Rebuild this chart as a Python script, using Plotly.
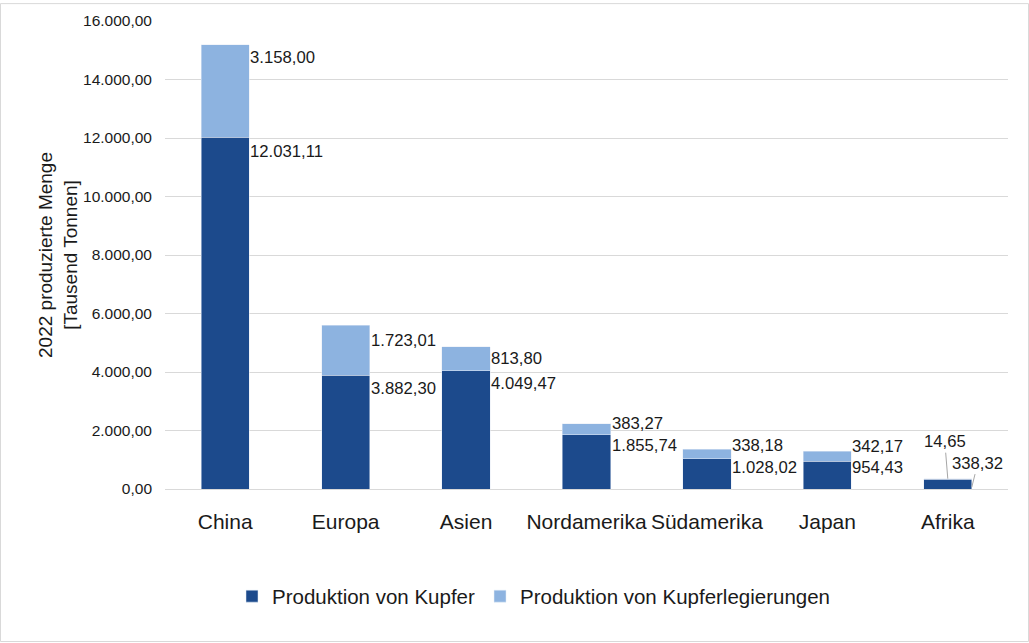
import plotly.graph_objects as go

categories = ["China", "Europa", "Asien", "Nordamerika", "Südamerika", "Japan", "Afrika"]
kupfer = [12031.11, 3882.30, 4049.47, 1855.74, 1028.02, 954.43, 338.32]
legierungen = [3158.00, 1723.01, 813.80, 383.27, 338.18, 342.17, 14.65]
series_names = ["Produktion von Kupfer", "Produktion von Kupferlegierungen"]
y_ticks = [0, 2000, 4000, 6000, 8000, 10000, 12000, 14000, 16000]

DARK = "#1c4a8c"
LIGHT = "#8db3e0"
FONT = "Liberation Sans, Arial, sans-serif"
TXT = "#1a1a1a"

# label vertical offsets (px, style only)
dark_shift = [-14, -13, -13, -11, -9, -6]
light_shift = [-13, -15, -12, 0, 4, 5]


def de(v):
    return f"{v:,.2f}".replace(",", "X").replace(".", ",").replace("X", ".")


fig = go.Figure()
fig.add_trace(go.Bar(x=categories, y=kupfer, name=series_names[0], marker_color=DARK))
fig.add_trace(go.Bar(x=categories, y=legierungen, name=series_names[1], marker_color=LIGHT))

LBL = dict(size=16.7, color=TXT, family=FONT)
ann = []
for i, c in enumerate(categories[:-1]):
    ann.append(dict(x=c, y=kupfer[i], text=de(kupfer[i]), showarrow=False, xanchor="left",
                    yanchor="middle", xshift=23, yshift=dark_shift[i], font=LBL))
    ann.append(dict(x=c, y=kupfer[i] + legierungen[i], text=de(legierungen[i]), showarrow=False,
                    xanchor="left", yanchor="middle", xshift=23, yshift=light_shift[i], font=LBL))
# Afrika with leader lines
c = categories[-1]
ann.append(dict(x=c, y=kupfer[-1] + legierungen[-1], text=de(legierungen[-1]), showarrow=True,
                arrowhead=0, arrowwidth=1, arrowcolor="#a6a6a6", ax=-3, ay=-37, font=LBL))
ann.append(dict(x=c, y=kupfer[-1], text=de(kupfer[-1]), showarrow=True, yshift=-8, xshift=24,
                arrowhead=0, arrowwidth=1, arrowcolor="#a6a6a6", ax=6, ay=-24, font=LBL))

L, R, T, B = 165, 21, 18, 154
W, H = 1029, 643
pw, ph = W - L - R, H - T - B

fig.update_layout(
    width=W, height=H,
    barmode="stack", bargap=0.6,
    separators=",.",
    plot_bgcolor="white", paper_bgcolor="white",
    margin=dict(l=L, r=R, t=T, b=B),
    font=dict(family=FONT, color=TXT, size=16),
    showlegend=True,
    legend=dict(orientation="h", x=(534 - L) / pw, xanchor="center", y=(T + ph - 597) / ph,
                yanchor="middle", font=dict(size=20.5, color=TXT, family=FONT),
                traceorder="normal", itemwidth=30),
    annotations=ann,
    shapes=[dict(type="rect", xref="paper", yref="paper",
                 x0=(-L + 0.5) / pw, x1=1 + (R - 0.5) / pw,
                 y0=-(B - 0.5) / ph, y1=1 + (T - 0.5) / ph,
                 line=dict(color="#d9d9d9", width=1))],
)
fig.update_xaxes(showgrid=False, showline=True, linecolor="#d9d9d9", linewidth=1, ticks="",
                 tickfont=dict(size=21, color=TXT, family=FONT), ticklabelstandoff=14)
fig.update_yaxes(range=[0, 16000], tickvals=y_ticks, tickformat=",.2f", showgrid=True,
                 gridcolor="#d9d9d9", gridwidth=1, zeroline=False, showline=False, ticks="",
                 tickfont=dict(size=15.5, color=TXT, family=FONT), ticklabelstandoff=12,
                 title=dict(text="2022 produzierte Menge<br>[Tausend Tonnen]",
                            font=dict(size=19, color=TXT, family=FONT), standoff=0))

fig.write_html("out.html", config={"displayModeBar": False},
               post_script="document.body.style.margin='0';document.body.style.overflow='hidden';")
